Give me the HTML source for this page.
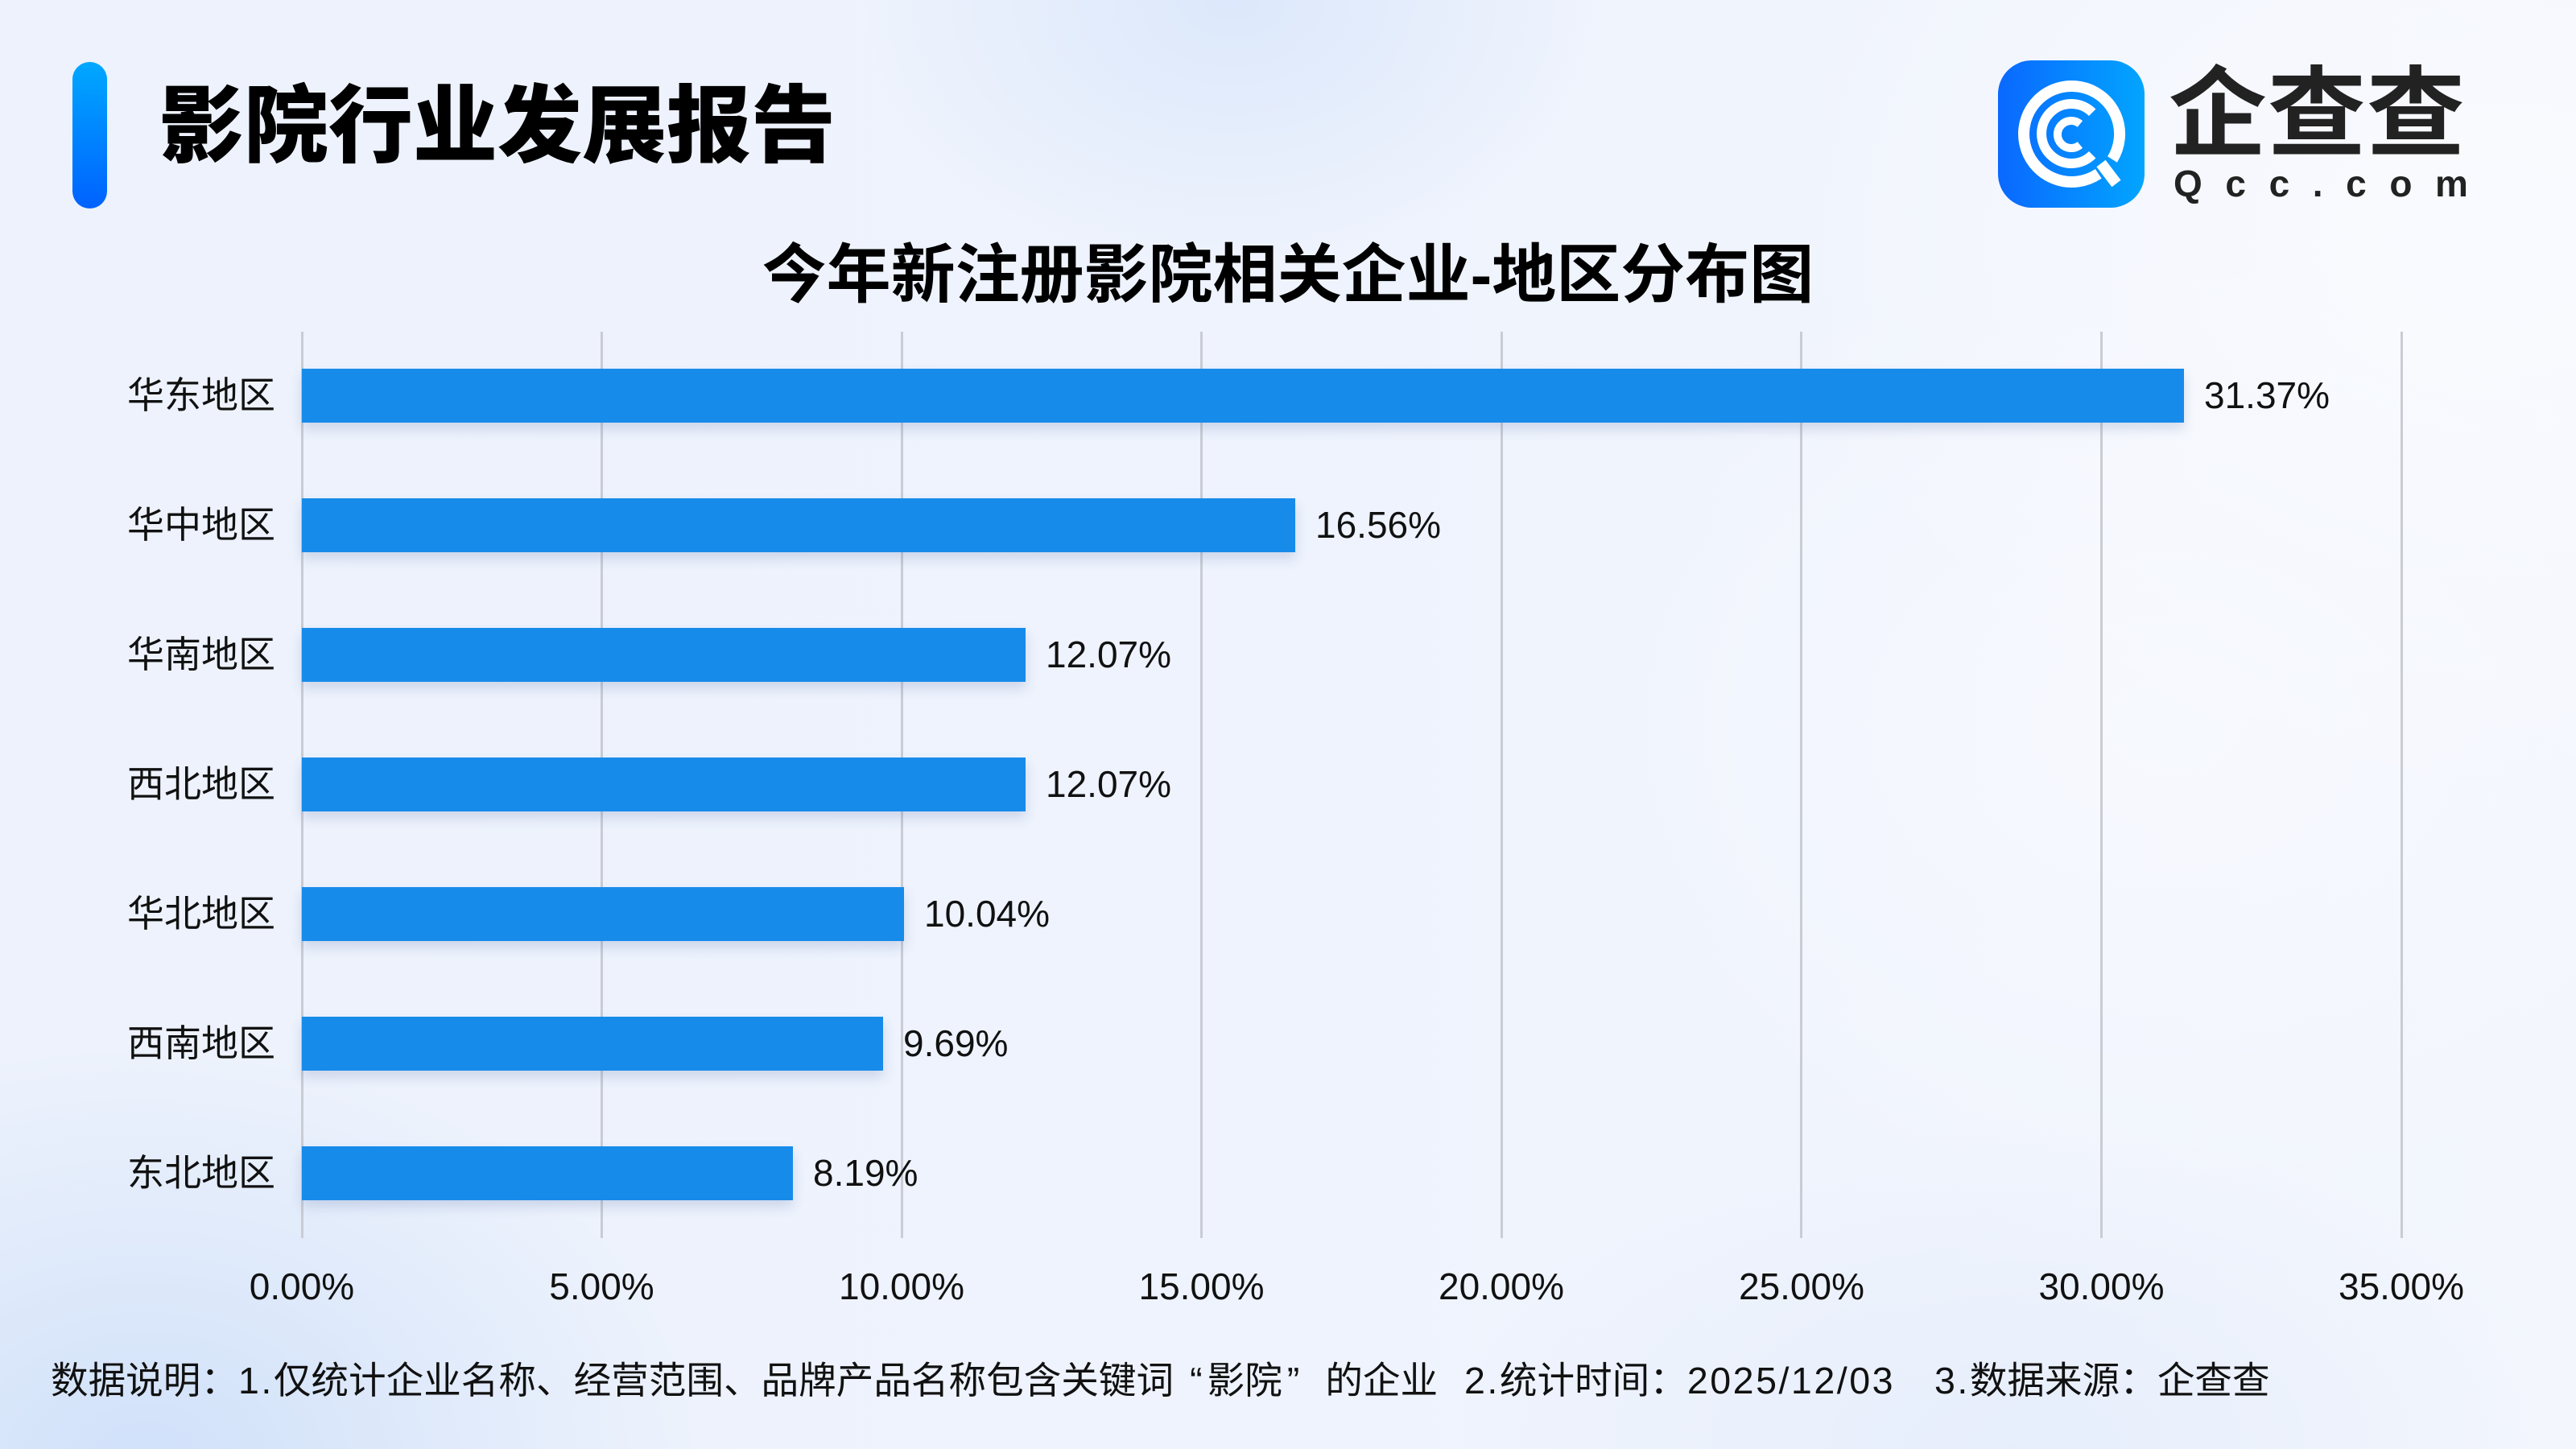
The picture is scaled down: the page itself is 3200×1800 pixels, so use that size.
<!DOCTYPE html>
<html>
<head>
<meta charset="utf-8">
<style>
  html,body{margin:0;padding:0;}
  body{width:3200px;height:1800px;position:relative;overflow:hidden;
    background:#eef3fc;
    font-family:"Liberation Sans","Noto Sans CJK SC",sans-serif;color:#111;}
  .bg{position:absolute;left:0;top:0;width:3200px;height:1800px;
    background:
      radial-gradient(ellipse 460px 330px at 1530px 0px, rgba(214,228,250,0.75), rgba(214,228,250,0) 100%),
      radial-gradient(ellipse 700px 520px at 180px 1820px, rgba(205,223,249,0.9), rgba(205,223,249,0) 100%),
      radial-gradient(ellipse 900px 700px at 3100px 300px, rgba(250,251,255,0.9), rgba(250,251,255,0) 100%),
      radial-gradient(ellipse 800px 600px at 2700px 900px, rgba(248,250,255,0.8), rgba(248,250,255,0) 100%),
      radial-gradient(ellipse 700px 400px at 2500px 1800px, rgba(226,235,251,0.7), rgba(226,235,251,0) 100%),
      linear-gradient(90deg,#edf2fc 0%,#eef3fd 50%,#f3f6fd 100%);}
  .abs{position:absolute;white-space:nowrap;}
  .bar-acc{left:90px;top:77px;width:43px;height:182px;border-radius:22px;
    background:linear-gradient(180deg,#00a8ff 0%,#0062ff 100%);}
  .title{left:198px;top:105px;font-size:105px;line-height:105px;font-weight:900;color:#000;}
  .ctitle{left:0;width:3200px;text-align:center;top:302px;font-size:80px;line-height:80px;font-weight:700;color:#000;}
  .grid{position:absolute;top:412px;height:1126px;width:3px;background:#c9ccd3;}
  .bar{position:absolute;left:375px;height:67px;background:#178bea;
    box-shadow:0 8px 14px rgba(70,100,160,0.20);}
  .cat{position:absolute;left:0;width:342px;text-align:right;height:67px;line-height:67px;font-size:46px;color:#111;}
  .val{position:absolute;height:67px;line-height:67px;font-size:46px;color:#111;white-space:nowrap;}
  .tick{position:absolute;top:1575px;width:300px;text-align:center;font-size:46px;line-height:46px;color:#111;}
  .foot{position:absolute;top:1692px;font-size:46.6px;line-height:46px;color:#111;white-space:nowrap;}
  .lat{letter-spacing:2.5px;}
  .ql{margin-left:20px;margin-right:6px;}
  .qr{margin-left:6px;margin-right:32px;}
  .logo-text{left:2694px;top:81px;font-size:122px;line-height:122px;font-weight:700;color:#222;letter-spacing:1px;}
  .qcc{position:absolute;left:2700px;top:202px;width:366px;display:flex;justify-content:space-between;
    font-size:46px;line-height:52px;font-weight:700;color:#222;}
</style>
</head>
<body>
<div class="bg"></div>

<div class="abs bar-acc"></div>
<div class="abs title">影院行业发展报告</div>

<svg class="abs" style="left:2482px;top:75px" width="182" height="183" viewBox="0 0 182 183">
  <defs>
    <linearGradient id="lg" x1="0" y1="0" x2="1" y2="0">
      <stop offset="0" stop-color="#0a68ff"/>
      <stop offset="1" stop-color="#02a5ff"/>
    </linearGradient>
  </defs>
  <rect x="0" y="0" width="182" height="183" rx="42" ry="42" fill="url(#lg)"/>
  <path d="M124.8 140.8 A59.5 59.5 0 1 1 142 123" fill="none" stroke="#fff" stroke-width="14"/>
  <line x1="128" y1="128" x2="147" y2="153" stroke="#fff" stroke-width="14"/>
  <path d="M117.2 117.2 A37 37 0 1 1 117.2 64.8" fill="none" stroke="#fff" stroke-width="12"/>
  <path d="M101.9 105 A17 17 0 1 1 101.9 79" fill="none" stroke="#fff" stroke-width="10"/>
</svg>
<div class="abs logo-text">企查查</div>
<div class="qcc"><span>Q</span><span>c</span><span>c</span><span>.</span><span>c</span><span>o</span><span>m</span></div>

<div class="abs ctitle">今年新注册影院相关企业-地区分布图</div>

<!-- gridlines -->
<div class="grid" style="left:373.5px"></div>
<div class="grid" style="left:746px"></div>
<div class="grid" style="left:1118.6px"></div>
<div class="grid" style="left:1491.2px"></div>
<div class="grid" style="left:1863.8px"></div>
<div class="grid" style="left:2236.4px"></div>
<div class="grid" style="left:2609px"></div>
<div class="grid" style="left:2981.5px"></div>

<!-- bars -->
<div class="bar" style="top:458px;width:2338px"></div>
<div class="bar" style="top:619px;width:1234px"></div>
<div class="bar" style="top:780px;width:899px"></div>
<div class="bar" style="top:941px;width:899px"></div>
<div class="bar" style="top:1102px;width:748px"></div>
<div class="bar" style="top:1263px;width:722px"></div>
<div class="bar" style="top:1424px;width:610px"></div>

<!-- category labels -->
<div class="cat" style="top:458px">华东地区</div>
<div class="cat" style="top:619px">华中地区</div>
<div class="cat" style="top:780px">华南地区</div>
<div class="cat" style="top:941px">西北地区</div>
<div class="cat" style="top:1102px">华北地区</div>
<div class="cat" style="top:1263px">西南地区</div>
<div class="cat" style="top:1424px">东北地区</div>

<!-- value labels -->
<div class="val" style="top:458px;left:2738px">31.37%</div>
<div class="val" style="top:619px;left:1634px">16.56%</div>
<div class="val" style="top:780px;left:1299px">12.07%</div>
<div class="val" style="top:941px;left:1299px">12.07%</div>
<div class="val" style="top:1102px;left:1148px">10.04%</div>
<div class="val" style="top:1263px;left:1122px">9.69%</div>
<div class="val" style="top:1424px;left:1010px">8.19%</div>

<!-- ticks -->
<div class="tick" style="left:225px">0.00%</div>
<div class="tick" style="left:597.5px">5.00%</div>
<div class="tick" style="left:970px">10.00%</div>
<div class="tick" style="left:1342.5px">15.00%</div>
<div class="tick" style="left:1715px">20.00%</div>
<div class="tick" style="left:2088px">25.00%</div>
<div class="tick" style="left:2460.5px">30.00%</div>
<div class="tick" style="left:2833px">35.00%</div>

<!-- footer -->
<div class="foot" style="left:63px">数据说明：<span class="lat">1.</span>仅统计企业名称、经营范围、品牌产品名称包含关键词<span class="ql">“</span>影院<span class="qr">”</span>的企业</div>
<div class="foot" style="left:1819px"><span class="lat">2.</span>统计时间：<span class="lat">2025/12/03</span></div>
<div class="foot" style="left:2403px"><span class="lat">3.</span>数据来源：企查查</div>
</body>
</html>
